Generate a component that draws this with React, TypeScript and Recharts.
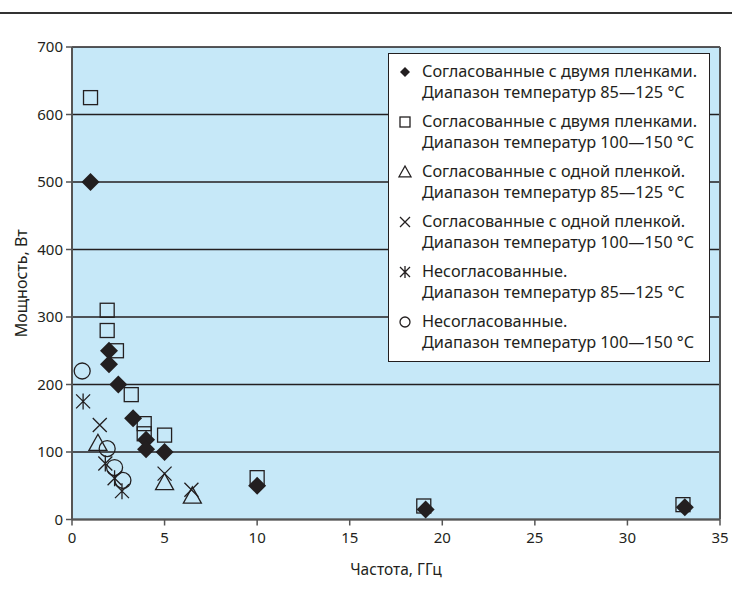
import React from 'react';
import {
  ScatterChart, Scatter, XAxis, YAxis, CartesianGrid, ReferenceLine, Label,
} from 'recharts';

// Power vs frequency for matched / unmatched loads, two temperature ranges

const xTicks = [0, 5, 10, 15, 20, 25, 30, 35];
const yTicks = [0, 100, 200, 300, 400, 500, 600, 700];

const twoFilm85X = [1, 2, 2, 2.5, 3.3, 4, 4, 5, 10, 19.1, 33.1];
const twoFilm85Y = [500, 250, 230, 200, 150, 118, 104, 100, 50, 15, 18];

const twoFilm100X = [1, 1.9, 1.9, 2.4, 3.2, 3.9, 3.9, 5, 10, 19, 33];
const twoFilm100Y = [625, 310, 280, 250, 185, 142, 127, 125, 62, 20, 22];

const oneFilm85X = [1.4, 5, 6.5];
const oneFilm85Y = [113, 55, 35];

const oneFilm100X = [1.5, 5, 6.45];
const oneFilm100Y = [140, 68, 44];

const unmatched85X = [0.6, 1.8, 2.3, 2.7];
const unmatched85Y = [175, 83, 61, 42];

const unmatched100X = [0.55, 1.9, 2.3, 2.75];
const unmatched100Y = [220, 105, 77, 58];

const seriesNames = [
  ['Согласованные с двумя пленками.', 'Диапазон температур 85—125 °C'],
  ['Согласованные с двумя пленками.', 'Диапазон температур 100—150 °C'],
  ['Согласованные с одной пленкой.', 'Диапазон температур 85—125 °C'],
  ['Согласованные с одной пленкой.', 'Диапазон температур 100—150 °C'],
  ['Несогласованные.', 'Диапазон температур 85—125 °C'],
  ['Несогласованные.', 'Диапазон температур 100—150 °C'],
];

const toPoints = (xs: number[], ys: number[]) => xs.map((x, i) => ({ x, y: ys[i] }));

const INK = '#231f20';
const PLOT_BG = '#c6e8f8';
const FONT = '"Noto Sans", sans-serif';

function Diamond({ cx, cy, s = 9 }: any) {
  return <path d={`M${cx},${cy - s}L${cx + s},${cy}L${cx},${cy + s}L${cx - s},${cy}Z`} fill={INK} />;
}
function Square({ cx, cy, s = 7 }: any) {
  return <rect x={cx - s} y={cy - s} width={s * 2} height={s * 2} fill="none" stroke={INK} strokeWidth={1.3} />;
}
function Triangle({ cx, cy, s = 9 }: any) {
  return (
    <path
      d={`M${cx},${cy - s}L${cx + s},${cy + s * 0.8}L${cx - s},${cy + s * 0.8}Z`}
      fill="none" stroke={INK} strokeWidth={1.3}
    />
  );
}
function Cross({ cx, cy, s = 7 }: any) {
  return (
    <path
      d={`M${cx - s},${cy - s}L${cx + s},${cy + s}M${cx + s},${cy - s}L${cx - s},${cy + s}`}
      stroke={INK} strokeWidth={1.3}
    />
  );
}
function Asterisk({ cx, cy, s = 7 }: any) {
  return (
    <path
      d={`M${cx - s},${cy - s}L${cx + s},${cy + s}M${cx + s},${cy - s}L${cx - s},${cy + s}M${cx},${cy - s - 1}L${cx},${cy + s + 1}`}
      stroke={INK} strokeWidth={1.3}
    />
  );
}
function Ring({ cx, cy, s = 8 }: any) {
  return <circle cx={cx} cy={cy} r={s} fill="none" stroke={INK} strokeWidth={1.3} />;
}

const legendIcons = [
  (p: any) => <Diamond {...p} s={5} />,
  (p: any) => <Square {...p} s={5} />,
  (p: any) => <Triangle {...p} s={6} />,
  (p: any) => <Cross {...p} s={5} />,
  (p: any) => <Asterisk {...p} s={5} />,
  (p: any) => <Ring {...p} s={5} />,
];

function LegendBox() {
  return (
    <div
      style={{
        position: 'absolute', left: 388, top: 53,
        width: 322, height: 309, background: '#fff', border: `1px solid ${INK}`,
        boxSizing: 'border-box', paddingTop: 7, fontFamily: FONT,
        fontSize: 16.3, color: INK,
      }}
    >
      {seriesNames.map((lines, i) => (
        <div key={i} style={{ position: 'relative', height: 50, paddingLeft: 33, lineHeight: '21px' }}>
          <svg width={16} height={16} style={{ position: 'absolute', left: 8, top: 3 }}>
            {legendIcons[i]({ cx: 8, cy: 8 })}
          </svg>
          <div>{lines[0]}</div>
          <div>{lines[1]}</div>
        </div>
      ))}
    </div>
  );
}

export default function App() {
  const axisFont = { fontSize: 15, fill: INK, fontFamily: FONT };
  return (
    <div style={{ position: 'relative', width: 732, height: 599, background: '#fff' }}>
      <style>{'body{margin:0}'}</style>
      <div style={{ position: 'absolute', left: 0, top: 12, width: 732, height: 2, background: '#333' }} />
      <ScatterChart width={732} height={599} margin={{ top: 47, right: 12, left: 0, bottom: 0 }}>
        <CartesianGrid vertical={false} fill={PLOT_BG} fillOpacity={1} stroke={INK} strokeWidth={1.4} />
        <XAxis
          type="number" dataKey="x" domain={[0, 35]} ticks={xTicks} height={79.5}
          tick={axisFont} tickSize={6} tickMargin={7}
          axisLine={{ stroke: '#555', strokeWidth: 2 }} tickLine={{ stroke: '#555', strokeWidth: 1.5 }}
        >
          <Label
            value="Частота, ГГц" position="insideBottom" offset={24}
            style={{ fontSize: 15.5, fill: INK, fontFamily: FONT }}
          />
        </XAxis>
        <YAxis
          type="number" dataKey="y" domain={[0, 700]} ticks={yTicks} width={72}
          tick={axisFont} tickSize={6} tickMargin={3}
          axisLine={{ stroke: '#555', strokeWidth: 2 }} tickLine={{ stroke: '#555', strokeWidth: 1.5 }}
        >
          <Label
            value="Мощность, Вт" angle={-90} position="insideLeft" offset={21}
            style={{ fontSize: 16, fill: INK, fontFamily: FONT, textAnchor: 'middle' }}
          />
        </YAxis>
        <ReferenceLine x={35} stroke="#555" strokeWidth={2} />
        <Scatter name="s2" data={toPoints(twoFilm100X, twoFilm100Y)} shape={Square} isAnimationActive={false} />
        <Scatter name="s1" data={toPoints(twoFilm85X, twoFilm85Y)} shape={Diamond} isAnimationActive={false} />
        <Scatter name="s3" data={toPoints(oneFilm85X, oneFilm85Y)} shape={Triangle} isAnimationActive={false} />
        <Scatter name="s4" data={toPoints(oneFilm100X, oneFilm100Y)} shape={Cross} isAnimationActive={false} />
        <Scatter name="s5" data={toPoints(unmatched85X, unmatched85Y)} shape={Asterisk} isAnimationActive={false} />
        <Scatter name="s6" data={toPoints(unmatched100X, unmatched100Y)} shape={Ring} isAnimationActive={false} />
      </ScatterChart>
      <LegendBox />
    </div>
  );
}
